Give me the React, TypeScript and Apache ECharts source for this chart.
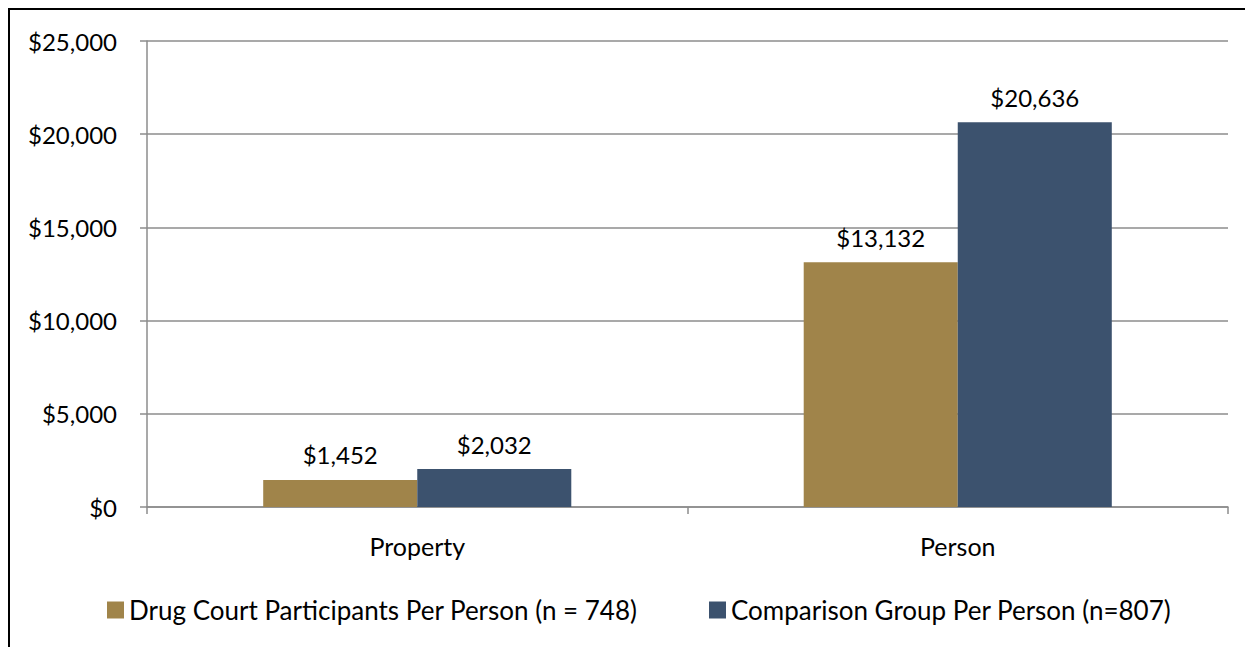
import React, { useEffect, useRef } from "react";
import * as echarts from "echarts";

const categories = ["Property", "Person"];
const drugCourt = [1452, 13132];
const comparison = [2032, 20636];
const seriesNames = [
  "Drug Court Participants Per Person (n = 748)",
  "Comparison Group Per Person (n=807)",
];

const fmt = (v: number) => "$" + v.toLocaleString("en-US");
const FONT = "Lato";

export default function App() {
  const ref = useRef<HTMLDivElement>(null);
  useEffect(() => {
    if (!ref.current) return;
    const chart = echarts.init(ref.current, undefined, { renderer: "svg" });
    const label = {
      show: true,
      position: "top" as const,
      distance: 13,
      fontSize: 24,
      fontFamily: FONT,
      color: "#000",
      formatter: (p: any) => fmt(p.value),
    };
    const legendBase = {
      top: 592,
      itemWidth: 17,
      itemHeight: 17,
      icon: "rect",
      textStyle: { fontSize: 26, fontFamily: FONT, color: "#000", padding: [0, 0, 0, 0] },
    };
    chart.setOption({
      animation: false,
      backgroundColor: "#fff",
      textStyle: { fontFamily: FONT },
      graphic: [
        {
          type: "rect",
          shape: { x: 9, y: 9, width: 1400, height: 800 },
          style: { fill: "none", stroke: "#000", lineWidth: 2 },
          silent: true,
        },
      ],
      grid: { left: 147, right: 17, top: 41, bottom: 140, containLabel: false },
      legend: [
        { ...legendBase, left: 102, data: [seriesNames[0]] },
        { ...legendBase, left: 704, data: [seriesNames[1]] },
      ],
      xAxis: {
        type: "category",
        data: categories,
        axisLine: { lineStyle: { color: "#8c8c8c", width: 1.5 } },
        axisTick: { show: true, length: 7, lineStyle: { color: "#8c8c8c", width: 1.5 } },
        axisLabel: { fontSize: 25, fontFamily: FONT, color: "#000", margin: 26 },
      },
      yAxis: {
        type: "value",
        min: 0,
        max: 25000,
        interval: 5000,
        axisLine: { show: true, lineStyle: { color: "#8c8c8c", width: 1.5 } },
        axisTick: { show: true, length: 7, lineStyle: { color: "#8c8c8c", width: 1.5 } },
        splitLine: { lineStyle: { color: "#8c8c8c", width: 1.5 } },
        axisLabel: {
          fontSize: 24,
          fontFamily: FONT,
          color: "#000",
          margin: 30,
          formatter: (v: number) => fmt(v),
        },
      },
      series: [
        {
          name: seriesNames[0],
          type: "bar",
          data: drugCourt,
          barGap: "0%",
          barCategoryGap: "43%",
          itemStyle: { color: "#A0844A" },
          label,
        },
        {
          name: seriesNames[1],
          type: "bar",
          data: comparison,
          itemStyle: { color: "#3C526E" },
          label,
        },
      ],
    });
    return () => chart.dispose();
  }, []);
  return (
    <div
      ref={ref}
      style={{ position: "fixed", left: 0, top: 0, width: 1245, height: 647 }}
    />
  );
}
